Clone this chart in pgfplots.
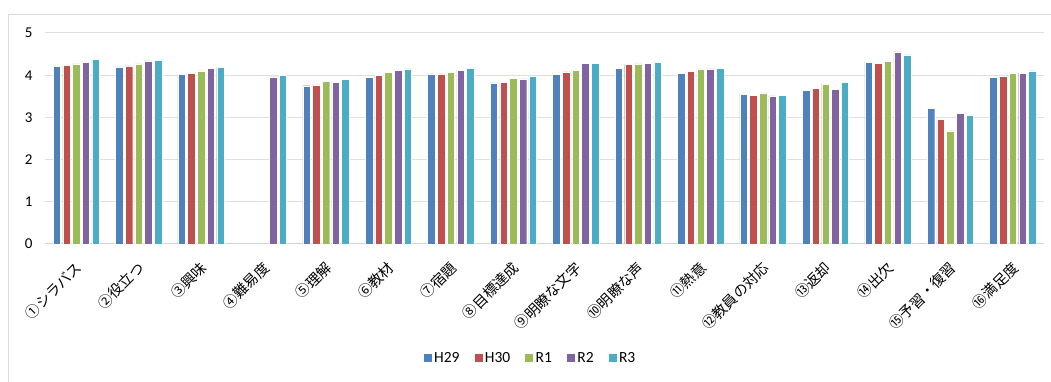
\documentclass[border=0pt]{standalone}
\usepackage{pgfplots}
\pgfplotsset{compat=1.18}
\usepackage{fontspec}
\setmainfont{Carlito}
\newfontfamily\jp{Noto Sans CJK JP}
\definecolor{cH29}{HTML}{4F81BD}
\definecolor{cH30}{HTML}{C0504D}
\definecolor{cR1}{HTML}{9BBB59}
\definecolor{cR2}{HTML}{8064A2}
\definecolor{cR3}{HTML}{4BACC6}
\begin{document}
\begin{tikzpicture}
\useasboundingbox (0pt,0pt) rectangle (1051pt,382pt);
\draw[gray!30, line width=1pt] (8.5pt,-5pt) -- (8.5pt,367.5pt) -- (1060pt,367.5pt);
\begin{axis}[
  at={(45pt,138pt)}, anchor=south west,
  scale only axis, width=999pt, height=211pt,
  ybar=2.2pt, bar width=7.5pt,
  xmin=-0.5, xmax=15.5, ymin=0, ymax=5,
  xtick={0,...,15}, ytick={0,1,2,3,4,5},
  xticklabels={①シラバス,②役立つ,③興味,④難易度,⑤理解,⑥教材,⑦宿題,⑧目標達成,⑨明瞭な文字,⑩明瞭な声,⑪熱意,⑫教員の対応,⑬返却,⑭出欠,⑮予習・復習,⑯満足度},
  xticklabel style={font=\jp\fontsize{14.5}{16}\selectfont, xshift=3pt, yshift=-21pt, rotate=45, anchor=east, inner sep=0pt},
  yticklabel style={font=\fontsize{15}{17}\selectfont, xshift=-9pt},
  /pgf/number format/assume math mode=true,
  major tick length=0pt,
  ymajorgrids, grid style={gray!25, line width=1pt},
  axis line style={draw=none},
  axis x line*=bottom,
  x axis line style={draw=gray!35, line width=1pt},
  ytick style={draw=none}, xtick style={draw=none},
  legend columns=5,
  legend style={at={(0.4855,-0.54)}, anchor=center, draw=none, font=\fontsize{15.5}{17}\selectfont,
    /tikz/every even column/.append style={column sep=12pt}},
  legend image code/.code={\fill[#1] (0pt,-4.5pt) rectangle (9pt,4.5pt);},
]
\addplot[fill=cH29, draw=white, line width=0.4pt] coordinates {(0,4.21) (1,4.20) (2,4.02) (4,3.75) (5,3.95) (6,4.03) (7,3.82) (8,4.02) (9,4.17) (10,4.05) (11,3.55) (12,3.64) (13,4.30) (14,3.22) (15,3.95)};
\addplot[fill=cH30, draw=white, line width=0.4pt] coordinates {(0,4.24) (1,4.22) (2,4.04) (4,3.77) (5,3.99) (6,4.03) (7,3.83) (8,4.08) (9,4.25) (10,4.09) (11,3.53) (12,3.69) (13,4.28) (14,2.96) (15,3.98)};
\addplot[fill=cR1, draw=white, line width=0.4pt] coordinates {(0,4.27) (1,4.27) (2,4.10) (4,3.85) (5,4.06) (6,4.06) (7,3.92) (8,4.12) (9,4.27) (10,4.15) (11,3.58) (12,3.79) (13,4.33) (14,2.68) (15,4.04)};
\addplot[fill=cR2, draw=white, line width=0.4pt] coordinates {(0,4.30) (1,4.34) (2,4.17) (3,3.96) (4,3.83) (5,4.11) (6,4.11) (7,3.91) (8,4.28) (9,4.28) (10,4.15) (11,3.51) (12,3.67) (13,4.55) (14,3.10) (15,4.05)};
\addplot[fill=cR3, draw=white, line width=0.4pt] coordinates {(0,4.38) (1,4.36) (2,4.18) (3,3.99) (4,3.90) (5,4.15) (6,4.17) (7,3.98) (8,4.28) (9,4.30) (10,4.17) (11,3.53) (12,3.83) (13,4.48) (14,3.05) (15,4.10)};
\legend{H29,H30,R1,R2,R3}
\end{axis}
\end{tikzpicture}
\end{document}
